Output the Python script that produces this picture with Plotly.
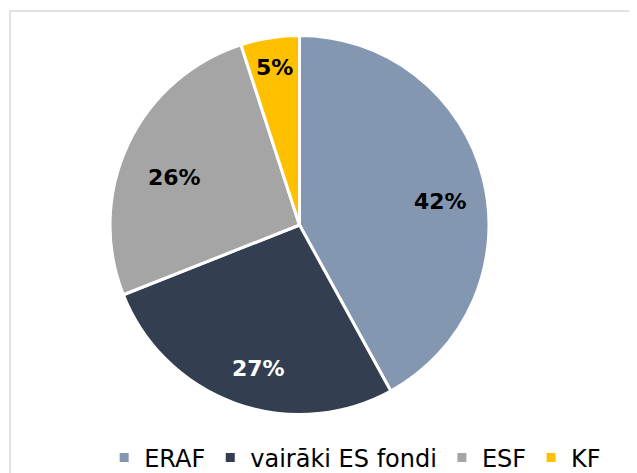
import math
import plotly.graph_objects as go

labels = ["ERAF", "vairāki ES fondi", "ESF", "KF"]
values = [42, 27, 26, 5]

colors = ["#8497B0", "#333F50", "#A5A5A5", "#FFC000"]
text_colors = ["#000000", "#FFFFFF", "#000000", "#000000"]
# label placement style (radial fraction of radius, angular nudge in degrees)
label_rfrac = [0.76, 0.795, 0.71, 0.85]
label_nudge = [5.0, -4.0, -4.5, 0.0]

W, H = 637, 473
# page body adds an 8px offset; geometry below is in figure pixels
cx, cy, r = 291.5, 217.0, 188.0
r_dom = r + 1.5  # plotly trims half the border width from the radius

fig = go.Figure(go.Pie(
    labels=labels,
    values=values,
    sort=False,
    direction="clockwise",
    rotation=0,
    marker=dict(colors=colors, line=dict(color="#FFFFFF", width=3)),
    textinfo="none",
    domain=dict(x=[(cx - r_dom) / W, (cx + r_dom) / W],
                y=[1 - (cy + r_dom) / H, 1 - (cy - r_dom) / H]),
    hoverinfo="label+percent",
))

total = sum(values)
annotations = []
cum = 0.0
for v, tc, rf, nd in zip(values, text_colors, label_rfrac, label_nudge):
    mid = (cum + v / 2) / total * 360 + nd
    cum += v
    d = rf * r
    px = cx + d * math.sin(math.radians(mid))
    py = cy - d * math.cos(math.radians(mid))
    annotations.append(dict(
        x=px / W, y=1 - py / H, xref="paper", yref="paper",
        text=f"{round(v / total * 100)}%", showarrow=False,
        xanchor="center", yanchor="middle",
        font=dict(family="DejaVu Sans", size=22, color=tc, weight="bold"),
    ))

fig.update_layout(
    width=W, height=H,
    margin=dict(l=0, r=0, t=0, b=0),
    paper_bgcolor="#FFFFFF",
    font=dict(family="DejaVu Sans", color="#000000"),
    annotations=annotations,
    legend=dict(
        orientation="h",
        x=0.545, xanchor="center",
        y=1 - 450 / H, yanchor="middle",
        font=dict(size=24, family="DejaVu Sans", color="#000000"),
        itemwidth=30,
        tracegroupgap=0,
        bgcolor="rgba(0,0,0,0)",
    ),
    shapes=[dict(
        type="rect", xref="paper", yref="paper",
        x0=2 / W, x1=1.05, y0=-0.05, y1=1 - 3 / H,
        line=dict(color="#D9D9D9", width=1.5),
        fillcolor="rgba(0,0,0,0)",
        layer="below",
    )],
)

fig.write_html("out.html")
